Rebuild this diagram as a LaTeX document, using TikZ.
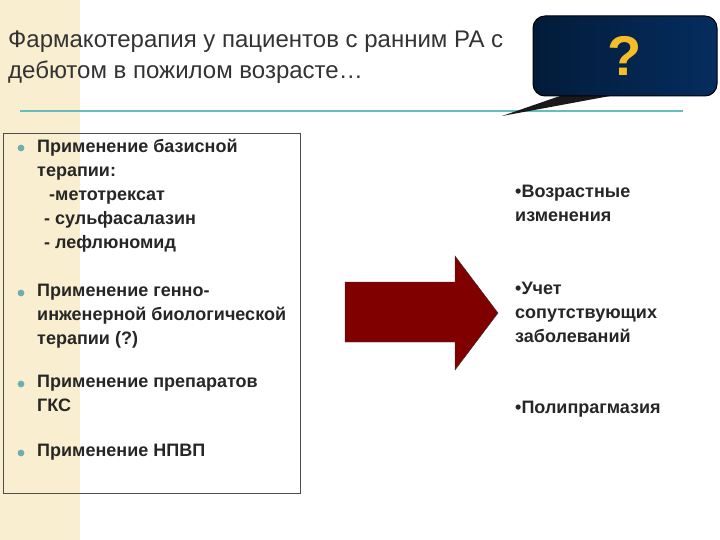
\documentclass[tikz,border=0pt]{standalone}
\usepackage{fontspec}
\setmainfont{Liberation Sans}
\definecolor{beige}{RGB}{250,238,208}
\definecolor{teal1}{RGB}{100,190,185}
\definecolor{darkred}{RGB}{128,0,0}
\definecolor{navy1}{RGB}{5,45,95}
\definecolor{qy}{RGB}{245,190,40}
\tikzset{body/.style={anchor=north west,align=left,font=\fontsize{18}{24}\selectfont\bfseries,text=black!85,inner sep=0},
bul/.style={circle,fill=teal1!80!gray,inner sep=2.4pt}}
\begin{document}
\begin{tikzpicture}[x=1pt,y=-1pt]
\useasboundingbox (0,0) rectangle (720,540);
\fill[white] (0,0) rectangle (720,540);
\fill[beige] (0,0) rectangle (80,540);
\node[anchor=north west,align=left,font=\fontsize{24}{31}\selectfont,text=black!80,inner sep=0] (title) at (8,31) {Фармакотерапия у пациентов с ранним РА с\\дебютом в пожилом возрасте…};
\draw[teal1,line width=2.5pt] (20,111) -- (683,111);
\coordinate (tail) at (502,116);
\fill[black!90] (tail) -- (560,96) -- (610,96) -- cycle;
\node[draw=black,line width=1pt,rounded corners=12pt,minimum width=184pt,minimum height=80pt,
 left color=navy1!60!black,right color=navy1,font=\fontsize{56}{56}\selectfont\bfseries,text=qy] (q) at (625,56) {?};
\draw[black!70,line width=0.8pt] (3,133) rectangle (300,493);
\node[bul] (b1) at (21,148) {}; \node[body] (t1) at (37,139) {Применение базисной\\терапии:\\\hspace{12pt}-метотрексат\\\hspace{7pt}- сульфасалазин\\\hspace{7pt}- лефлюномид};
\node[bul] (b2) at (21,293) {}; \node[body] (t2) at (37,284) {Применение генно-\\инженерной биологической\\терапии (?)};
\node[bul] (b3) at (21,384) {}; \node[body] (t3) at (37,375) {Применение препаратов\\ГКС};
\node[bul] (b4) at (21,453) {}; \node[body] (t4) at (37,444) {Применение НПВП};
\fill[darkred,draw=black!80] (345,282) -- (455,282) -- (455,256) -- (498,313) -- (455,370) -- (455,342) -- (345,342) -- cycle;
\node[body] (r1) at (515,185) {•Возрастные\\изменения};
\node[body] (r2) at (515,282) {•Учет\\сопутствующих\\заболеваний};
\node[body] (r3) at (515,401) {•Полипрагмазия};
\end{tikzpicture}
\end{document}
